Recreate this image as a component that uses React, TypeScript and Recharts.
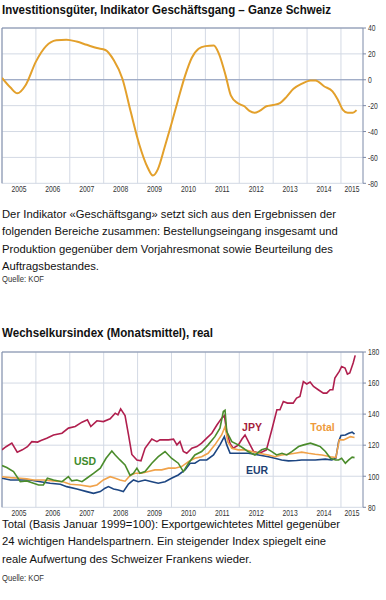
import React from 'react';
import { LineChart, Line, XAxis, YAxis, CartesianGrid, ReferenceLine } from 'recharts';

// Investitionsgüter, Indikator Geschäftsgang (Saldo)
const gangDates = [
  2005.0, 2005.25, 2005.45, 2005.7, 2006.0, 2006.3, 2006.6, 2006.9, 2007.2, 2007.5,
  2007.8, 2008.05, 2008.3, 2008.55, 2008.8, 2009.05, 2009.3, 2009.45, 2009.6, 2009.8,
  2010.0, 2010.2, 2010.4, 2010.6, 2010.8, 2011.0, 2011.25, 2011.4, 2011.6, 2011.75,
  2011.95, 2012.15, 2012.3, 2012.45, 2012.6, 2012.8, 2013.0, 2013.2, 2013.4, 2013.6,
  2013.85, 2014.1, 2014.25, 2014.5, 2014.75, 2014.9, 2015.05, 2015.2, 2015.35, 2015.46,
];
const gangValues = [
  1.5, -6, -10.5, -4, 14, 26, 30.5, 31, 29.5, 27,
  24.5, 23, 15, 1, -25, -50, -68, -74, -69, -52,
  -34, -15, 3, 17, 24, 26, 26.5, 20, 3, -12,
  -18, -20.5, -24, -25.5, -24, -20.5, -19.5, -18, -13, -7,
  -3, -0.5, -0.5, -5, -9, -15, -23, -25.5, -25.5, -23.5,
];

// Wechselkursindex, real
const jpyDates = [
  2005.0, 2005.12, 2005.29, 2005.45, 2005.6, 2005.75, 2005.88, 2006.05, 2006.15, 2006.32,
  2006.52, 2006.77, 2006.96, 2007.16, 2007.36, 2007.52, 2007.62, 2007.8, 2007.99, 2008.19,
  2008.34, 2008.42, 2008.5, 2008.63, 2008.73, 2008.83, 2008.98, 2009.1, 2009.22, 2009.42,
  2009.57, 2009.66, 2009.91, 2010.06, 2010.16, 2010.25, 2010.35, 2010.45, 2010.6, 2010.75,
  2010.89, 2011.04, 2011.19, 2011.34, 2011.48, 2011.56, 2011.63, 2011.73, 2011.82, 2011.97,
  2012.08, 2012.17, 2012.3, 2012.42, 2012.6, 2012.8, 2012.96, 2013.11, 2013.2, 2013.3,
  2013.42, 2013.59, 2013.69, 2013.79, 2013.89, 2013.99, 2014.09, 2014.19, 2014.33, 2014.48,
  2014.58, 2014.68, 2014.76, 2014.82, 2014.95, 2015.02, 2015.12, 2015.19, 2015.26, 2015.36, 2015.42,
];
const jpyValues = [
  117, 119, 121.3, 115.5, 117, 119, 122.3, 122, 123, 124.5,
  126.6, 127.7, 131, 132, 134.8, 136.3, 132, 135.7, 135.2, 137,
  140.6, 139.5, 143.4, 139, 127, 114, 110.5, 110, 118, 123.9,
  122.3, 123.4, 123.4, 123.9, 120.2, 122.3, 115.9, 114.8, 118, 119.1,
  121.3, 124.5, 127.7, 133, 137.4, 139, 128.8, 121, 118, 120,
  124, 126.6, 121, 116, 114.8, 117, 129.9, 142.8, 142.8, 148.1,
  147.1, 147.1, 150.3, 151.4, 161, 159.4, 160.6, 157.8, 155.7, 153.5,
  153.5, 155.7, 155.7, 163.2, 167.5, 170.7, 169.7, 165.8, 166.5, 172.9, 177.8,
];

const usdDates = [
  2005.0, 2005.14, 2005.34, 2005.54, 2005.73, 2005.93, 2006.08, 2006.22, 2006.34, 2006.52,
  2006.77, 2006.96, 2007.06, 2007.21, 2007.36, 2007.5, 2007.7, 2007.9, 2008.07, 2008.24,
  2008.34, 2008.48, 2008.63, 2008.78, 2008.88, 2008.98, 2009.07, 2009.22, 2009.42, 2009.61,
  2009.81, 2010.0, 2010.2, 2010.35, 2010.5, 2010.69, 2010.89, 2011.08, 2011.28, 2011.43,
  2011.53, 2011.58, 2011.63, 2011.78, 2011.97, 2012.12, 2012.26, 2012.46, 2012.66, 2012.8,
  2012.96, 2013.1, 2013.26, 2013.4, 2013.55, 2013.75, 2013.9, 2014.1, 2014.25, 2014.39,
  2014.54, 2014.69, 2014.84, 2014.93, 2015.02, 2015.13, 2015.23, 2015.33, 2015.4,
];
const usdValues = [
  106.9, 105.6, 103, 96.5, 97, 95.5, 94.4, 94.4, 98.7, 97.6,
  96.5, 99.7, 97, 97.6, 96.5, 98.7, 101.9, 105.2, 111.6, 116.3,
  113.7, 110.5, 107.3, 100.5, 101.9, 105.2, 101.9, 103, 108.4, 112.6,
  115.9, 111.6, 108.4, 103, 108.4, 113.7, 115.9, 120.2, 125.5, 131,
  141.7, 142.5, 128.8, 122.3, 120.2, 118, 115.9, 113.7, 117, 118,
  115.9, 113.7, 114.8, 113.7, 115.9, 119.1, 120.2, 121.3, 120.2, 119.1,
  115.9, 111.6, 110.5, 110.5, 111.6, 108.4, 110.5, 112.3, 112,
];

const eurDates = [
  2005.0, 2005.25, 2005.54, 2005.83, 2006.13, 2006.42, 2006.72, 2006.91, 2007.21, 2007.5,
  2007.7, 2007.9, 2008.04, 2008.14, 2008.29, 2008.43, 2008.58, 2008.73, 2008.88, 2009.02,
  2009.22, 2009.42, 2009.61, 2009.81, 2010.0, 2010.2, 2010.4, 2010.55, 2010.69, 2010.84,
  2011.04, 2011.24, 2011.43, 2011.56, 2011.63, 2011.73, 2011.88, 2012.07, 2012.27, 2012.57,
  2012.86, 2013.05, 2013.25, 2013.45, 2013.69, 2013.84, 2014.04, 2014.24, 2014.54, 2014.73,
  2014.85, 2014.93, 2015.0, 2015.13, 2015.23, 2015.33, 2015.4,
];
const eurValues = [
  98.7, 97.6, 97.6, 97.6, 96.5, 95.5, 94.8, 93.3, 91.8, 90.1,
  89, 90.1, 92.3, 93.3, 91.8, 91.1, 90.1, 95, 97.6, 96.5,
  97.6, 96.5, 95.5, 96.5, 98.7, 100.8, 104.1, 108.4, 108.4, 110.5,
  110.5, 113.7, 120.2, 125.5, 120.2, 114.8, 114.8, 114.8, 114.8, 113.7,
  112.6, 111.6, 110.5, 109.9, 110.1, 110.5, 110.5, 110.5, 111, 110.5,
  111.6, 122.3, 126.2, 126.6, 127.7, 128.4, 127.1,
];

const totalDates = [
  2005.0, 2005.25, 2005.54, 2005.73, 2005.93, 2006.22, 2006.52, 2006.8, 2007.01, 2007.3,
  2007.6, 2007.8, 2007.99, 2008.19, 2008.34, 2008.48, 2008.63, 2008.78, 2008.93, 2009.12,
  2009.32, 2009.51, 2009.71, 2009.91, 2010.1, 2010.3, 2010.5, 2010.69, 2010.89, 2011.08,
  2011.28, 2011.48, 2011.58, 2011.66, 2011.78, 2011.97, 2012.17, 2012.37, 2012.57, 2012.86,
  2013.05, 2013.25, 2013.45, 2013.64, 2013.84, 2014.04, 2014.24, 2014.44, 2014.69, 2014.85,
  2014.95, 2015.08, 2015.18, 2015.28, 2015.4,
];
const totalValues = [
  99.7, 99.1, 98.7, 98.3, 97.6, 97.6, 97, 96.5, 94.8, 94.4,
  93.3, 94.4, 97.6, 99.7, 98.7, 97.6, 96.8, 100.5, 101.9, 101.9,
  103, 104.1, 104.1, 105.2, 105.2, 106.2, 109.4, 111.6, 112.6, 114.8,
  120.2, 126.6, 132, 122.3, 118, 117, 117, 115.9, 114.8, 113.7,
  112.6, 113.7, 114.2, 114.8, 115.5, 114.8, 114.2, 113.7, 112.6, 112,
  123.4, 123.4, 124.5, 125.5, 124.9,
];

const years = [2005, 2006, 2007, 2008, 2009, 2010, 2011, 2012, 2013, 2014, 2015];
const xMin = 2005;
const xMax = 2015.65;
const gangTicks = [-80, -60, -40, -20, 0, 20, 40];
const fxTicks = [80, 100, 120, 140, 160, 180];

const SANS = "'Liberation Sans', Arial, sans-serif";
const GRID = '#d3d9e4';
const FRAME = '#7d8aa8';

const toRows = (ts: number[], vs: number[]) => ts.map((t, i) => ({ t, v: vs[i] }));
// year labels sit in the middle of each year, last one in the middle of the partial year
const labelTicks = years.map((y) => (y === 2015 ? (y + xMax) / 2 : y + 0.5));

// tick text squeezed horizontally to look like the condensed face of the original
function NarrowTick(props: any) {
  const { x, y, payload, tickFormatter, index } = props;
  const label = tickFormatter ? tickFormatter(payload.value, index) : String(payload.value);
  return (
    <g transform={`translate(${x},${y}) scale(0.72,1)`}>
      <text x={0} y={0} dy="0.71em" textAnchor="middle" fontFamily={SANS} fontSize={9.4} fill="#333">{label}</text>
    </g>
  );
}

function YTick(props: any) {
  const { x, y, payload } = props;
  return (
    <g transform={`translate(${x},${y}) scale(0.72,1)`}>
      <text x={0} y={0} dy="0.35em" textAnchor="start" fontFamily={SANS} fontSize={9.4} fill="#333">{payload.value}</text>
    </g>
  );
}

function renderAxes(ticks: number[]) {
  return [
    <CartesianGrid key="g" xAxisId="b" stroke={GRID} strokeWidth={1} horizontalValues={ticks} verticalValues={years} />,
    <XAxis key="xb" xAxisId="b" type="number" dataKey="t" domain={[xMin, xMax]} allowDataOverflow ticks={years}
      height={0} axisLine={{ stroke: FRAME }} tickLine={{ stroke: '#999' }} tickSize={3} tickFormatter={() => ''} />,
    <XAxis key="xl" xAxisId="l" type="number" dataKey="t" domain={[xMin, xMax]} allowDataOverflow ticks={labelTicks}
      height={14.7} axisLine={false} tickLine={false} tickSize={0} tickMargin={2.5} interval={0}
      tick={<NarrowTick />} tickFormatter={(v: number) => String(Math.floor(v))} />,
    <YAxis key="y" orientation="right" type="number" domain={[ticks[0], ticks[ticks.length - 1]]} ticks={ticks}
      width={23} interval={0} axisLine={{ stroke: FRAME }} tickLine={{ stroke: FRAME }} tickSize={3} tickMargin={2}
      tick={<YTick />} />,
    <ReferenceLine key="rt" xAxisId="b" y={ticks[ticks.length - 1]} stroke={FRAME} />,
    <ReferenceLine key="rl" xAxisId="b" x={xMin} stroke={FRAME} />,
  ];
}

// text fitted to the width it takes in the original
function FitText({ left, top, width, baseline, size, bold, color, children }: {
  left: number; top: number; width: number; baseline: number; size: number; bold?: boolean; color: string; children: string;
}) {
  return (
    <svg style={{ position: 'absolute', left, top, overflow: 'visible' }} width={width + 12} height={baseline + size * 0.7}>
      <text x={0} y={baseline} fontFamily={SANS} fontSize={size} fontWeight={bold ? 'bold' : 'normal'} fill={color}
        textLength={width} lengthAdjust="spacingAndGlyphs">{children}</text>
    </svg>
  );
}

const textLine: React.CSSProperties = { position: 'absolute', left: 2, fontFamily: SANS, fontSize: 11.25, lineHeight: '17.3px', color: '#111', whiteSpace: 'nowrap' };
const tag = (color: string, x: number, y: number): React.CSSProperties => ({
  position: 'absolute', left: x, top: y, transform: 'translate(-50%, -50%)', fontFamily: SANS, fontWeight: 'bold',
  fontSize: 10.5, lineHeight: 1, color,
});

export default function App() {
  const gang = toRows(gangDates, gangValues);
  return (
    <div style={{ position: 'absolute', left: 0, top: 0, width: 386, height: 600, background: '#fff', overflow: 'hidden' }}>
      <FitText left={2} top={0} width={329} baseline={13.5} size={13} bold color="#111">
        Investitionsgüter, Indikator Geschäftsgang – Ganze Schweiz
      </FitText>
      <div style={{ position: 'absolute', left: 0, top: 20 }}>
        <LineChart width={386} height={178} data={gang} margin={{ top: 8, right: 0, bottom: 0, left: 2 }}>
          {renderAxes(gangTicks)}
          <ReferenceLine xAxisId="b" y={0} stroke="#8d9bbb" strokeWidth={1.2} />
          <Line xAxisId="b" dataKey="v" type="monotone" stroke="#e3a02b" strokeWidth={2} dot={false} isAnimationActive={false} />
        </LineChart>
      </div>
      <div style={{ ...textLine, top: 206 }}>
        Der Indikator «Geschäftsgang» setzt sich aus den Ergebnissen der<br />
        folgenden Bereiche zusammen: Bestellungseingang insgesamt und<br />
        Produktion gegenüber dem Vorjahresmonat sowie Beurteilung des<br />
        Auftragsbestandes.
      </div>
      <FitText left={2} top={272} width={42} baseline={10} size={8.3} color="#333">Quelle: KOF</FitText>

      <FitText left={2} top={323} width={211} baseline={13.7} size={13} bold color="#111">
        Wechselkursindex (Monatsmittel), real
      </FitText>
      <div style={{ position: 'absolute', left: 0, top: 344.3 }}>
        <LineChart width={386} height={178} margin={{ top: 8, right: 0, bottom: 0, left: 2 }}>
          {renderAxes(fxTicks)}
          <Line xAxisId="b" data={toRows(jpyDates, jpyValues)} dataKey="v" type="linear" stroke="#b01f4e" strokeWidth={1.6} dot={false} isAnimationActive={false} />
          <Line xAxisId="b" data={toRows(eurDates, eurValues)} dataKey="v" type="linear" stroke="#1d4682" strokeWidth={1.6} dot={false} isAnimationActive={false} />
          <Line xAxisId="b" data={toRows(totalDates, totalValues)} dataKey="v" type="linear" stroke="#f0a24a" strokeWidth={1.6} dot={false} isAnimationActive={false} />
          <Line xAxisId="b" data={toRows(usdDates, usdValues)} dataKey="v" type="linear" stroke="#4b8c2c" strokeWidth={1.6} dot={false} isAnimationActive={false} />
        </LineChart>
      </div>
      <div style={tag('#3f8a2a', 85, 461)}>USD</div>
      <div style={tag('#a51d3c', 252, 426.7)}>JPY</div>
      <div style={tag('#ee9a3a', 322.5, 427.3)}>Total</div>
      <div style={tag('#1d3f72', 257, 470)}>EUR</div>
      <div style={{ ...textLine, top: 516 }}>
        Total (Basis Januar 1999=100): Exportgewichtetes Mittel gegenüber<br />
        24 wichtigen Handelspartnern. Ein steigender Index spiegelt eine<br />
        reale Aufwertung des Schweizer Frankens wieder.
      </div>
      <FitText left={2} top={571} width={42} baseline={10} size={8.3} color="#333">Quelle: KOF</FitText>
    </div>
  );
}
